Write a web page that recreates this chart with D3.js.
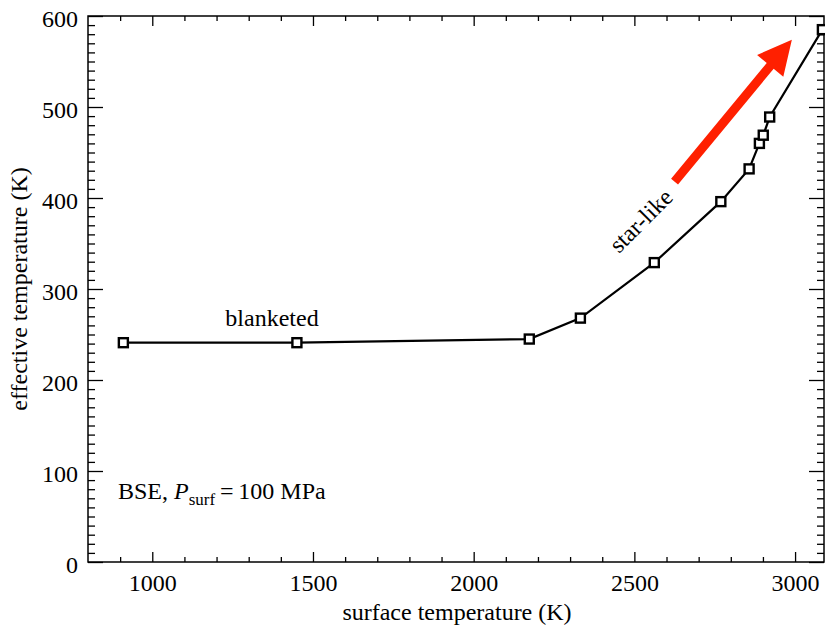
<!DOCTYPE html>
<html>
<head>
<meta charset="utf-8">
<script src="https://cdn.jsdelivr.net/npm/d3@7"></script>
<style>
  html, body { margin: 0; padding: 0; background: #fff; }
  svg { display: block; }
  text { font-family: "Liberation Serif", "DejaVu Serif", serif; fill: #000; }
</style>
</head>
<body>
<svg id="chart" width="825" height="627"></svg>
<script>
// ---- data ----
const surfaceTemp = [910, 1450, 2173, 2332, 2562, 2769, 2857, 2889, 2901, 2921, 3085];
const effectiveTemp = [241, 241, 245, 268, 329, 396, 432, 460, 469, 489, 585];
const xTickLabels = [1000, 1500, 2000, 2500, 3000];
const yTickLabels = [0, 100, 200, 300, 400, 500, 600];
const xMinorTicks = d3.range(900, 3100, 100);
const yMinorTicks = d3.range(0, 601, 10);
const xDomain = [800, 3090];
const yDomain = [0, 600];
const arrowFrom = [2625, 418];   // data coords of arrow tail
const arrowTo = [2990, 574];     // data coords of arrow tip

// ---- layout ----
const L = 88, R = 824, T = 16, B = 562;
const svg = d3.select("#chart");
const x = d3.scaleLinear().domain(xDomain).range([L, R]);
const y = d3.scaleLinear().domain(yDomain).range([B, T]);

const fontSize = 24;

// frame
svg.append("rect").attr("x", L).attr("y", T).attr("width", R - L).attr("height", B - T)
  .attr("fill", "none").attr("stroke", "#000").attr("stroke-width", 1.5);

function styleAxis(g) {
  g.select(".domain").remove();
  g.selectAll("line").attr("stroke", "#000").attr("stroke-width", 1.3);
}

// bottom axis (labels + major ticks inward)
svg.append("g").attr("transform", `translate(0,${B})`)
  .call(d3.axisBottom(x).tickValues(xTickLabels).tickSize(-10).tickPadding(12).tickFormat(d3.format("d")))
  .call(styleAxis)
  .call(g => g.selectAll("text").attr("font-size", fontSize).attr("font-family", "Liberation Serif").attr("fill", "#000"));
svg.append("g").attr("transform", `translate(0,${B})`)
  .call(d3.axisBottom(x).tickValues(xMinorTicks.filter(v => v % 500 !== 0)).tickSize(-5).tickFormat(""))
  .call(styleAxis);
// top axis
svg.append("g").attr("transform", `translate(0,${T})`)
  .call(d3.axisTop(x).tickValues(xTickLabels).tickSize(-10).tickFormat(""))
  .call(styleAxis);
svg.append("g").attr("transform", `translate(0,${T})`)
  .call(d3.axisTop(x).tickValues(xMinorTicks.filter(v => v % 500 !== 0)).tickSize(-5).tickFormat(""))
  .call(styleAxis);

// left axis
svg.append("g").attr("transform", `translate(${L},0)`)
  .call(d3.axisLeft(y).tickValues(yTickLabels).tickSize(-15).tickPadding(10).tickFormat(d3.format("d")))
  .call(styleAxis)
  .call(g => g.selectAll("text").attr("font-size", fontSize).attr("font-family", "Liberation Serif").attr("fill", "#000").attr("dy", "0.45em"));
svg.append("g").attr("transform", `translate(${L},0)`)
  .call(d3.axisLeft(y).tickValues(yMinorTicks.filter(v => v % 100 !== 0)).tickSize(-7).tickFormat(""))
  .call(styleAxis);
// right axis
svg.append("g").attr("transform", `translate(${R},0)`)
  .call(d3.axisRight(y).tickValues(yTickLabels).tickSize(-15).tickFormat(""))
  .call(styleAxis);
svg.append("g").attr("transform", `translate(${R},0)`)
  .call(d3.axisRight(y).tickValues(yMinorTicks.filter(v => v % 100 !== 0)).tickSize(-7).tickFormat(""))
  .call(styleAxis);

// axis titles
svg.append("text").attr("x", (L + R) / 2 + 1).attr("y", 620).attr("text-anchor", "middle")
  .attr("font-size", fontSize).text("surface temperature (K)");
svg.append("text").attr("transform", `translate(27,${(T + B) / 2}) rotate(-90)`)
  .attr("text-anchor", "middle").attr("font-size", fontSize).text("effective temperature (K)");

// data line
const pts = surfaceTemp.map((d, i) => [d, effectiveTemp[i]]);
svg.append("path").datum(pts)
  .attr("d", d3.line().x(d => x(d[0])).y(d => y(d[1])))
  .attr("fill", "none").attr("stroke", "#000").attr("stroke-width", 2.2);

// square markers
const ms = 9;
svg.append("g").selectAll("rect").data(pts).join("rect")
  .attr("x", d => x(d[0]) - ms / 2).attr("y", d => y(d[1]) - ms / 2)
  .attr("width", ms).attr("height", ms)
  .attr("fill", "#fff").attr("stroke", "#000").attr("stroke-width", 2.4);

// red arrow
const ax0 = x(arrowFrom[0]), ay0 = y(arrowFrom[1]);
const ax1 = x(arrowTo[0]), ay1 = y(arrowTo[1]);
const ang = Math.atan2(ay1 - ay0, ax1 - ax0);
const headLen = 34, headHalf = 17, shaftHalf = 4.5;
const len = Math.hypot(ax1 - ax0, ay1 - ay0);
const arrowPts = [
  [0, -shaftHalf], [len - headLen, -shaftHalf], [len - headLen, -headHalf], [len, 0],
  [len - headLen, headHalf], [len - headLen, shaftHalf], [0, shaftHalf]
];
svg.append("polygon")
  .attr("points", arrowPts.map(p => p.join(",")).join(" "))
  .attr("transform", `translate(${ax0},${ay0}) rotate(${ang * 180 / Math.PI})`)
  .attr("fill", "#ff2000");

// annotations
svg.append("text").attr("x", 272).attr("y", 326).attr("text-anchor", "middle")
  .attr("font-size", fontSize).text("blanketed");
svg.append("text").attr("transform", "translate(619,254) rotate(-45)")
  .attr("font-size", fontSize).text("star-like");

const lab = svg.append("text").attr("x", 118).attr("y", 499).attr("font-size", fontSize);
lab.append("tspan").text("BSE, ");
lab.append("tspan").attr("font-style", "italic").text("P");
lab.append("tspan").attr("font-size", 17).attr("dy", 6).text("surf");
lab.append("tspan").attr("dy", -6).text("\u2009=\u2009100 MPa");
</script>
</body>
</html>
